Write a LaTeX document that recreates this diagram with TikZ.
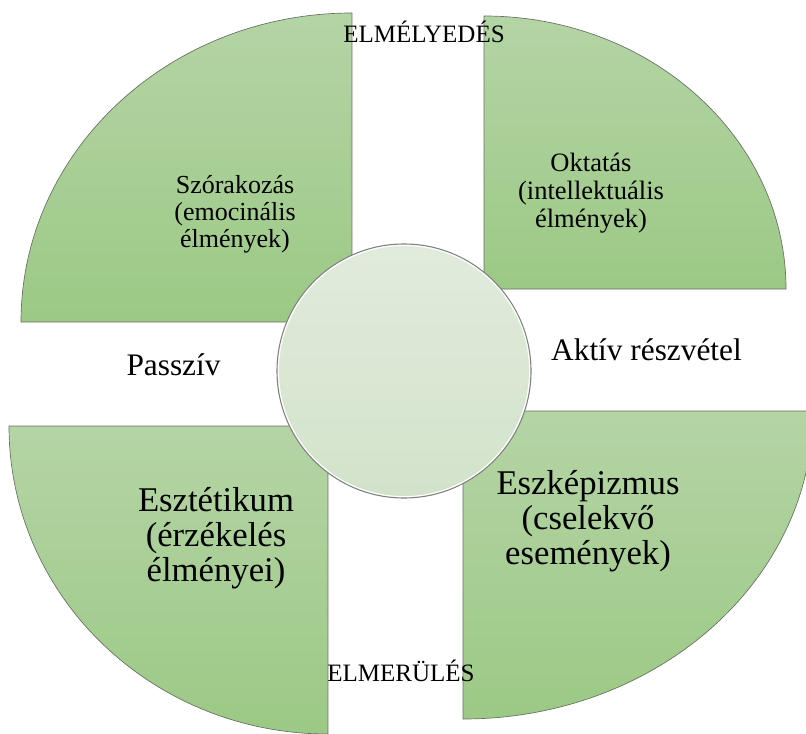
\documentclass[tikz,border=0pt]{standalone}
\usepackage{fontspec}
\setmainfont{LiberationSerif}[Extension=.ttf, UprightFont=*-Regular, BoldFont=*-Bold]
\usetikzlibrary{positioning}
\definecolor{pietop}{RGB}{180,212,165}
\definecolor{piebottom}{RGB}{156,201,133}
\definecolor{pieline}{RGB}{105,110,100}
\definecolor{hubtop}{RGB}{225,235,221}
\definecolor{hubbottom}{RGB}{210,227,202}

\begin{document}
\begin{tikzpicture}[x=0.75pt,y=0.75pt,%
  pie/.style={draw=pieline, line width=0.5pt, top color=pietop, bottom color=piebottom},
  hub/.style={circle, minimum size=190.5pt, inner sep=0pt, draw=gray, line width=0.8pt,
    top color=hubtop, bottom color=hubbottom},
  axis/.style={font=\fontsize{18.75}{20}\selectfont, anchor=base, inner sep=0pt},
  side/.style={font=\fontsize{23.5}{25}\selectfont, anchor=base, inner sep=0pt},
  small/.style={align=center, anchor=base, inner sep=0pt},
  big/.style={font=\fontsize{26}{26.25}\selectfont, align=center, anchor=base, inner sep=0pt},
]
  \useasboundingbox (0,0) rectangle (806,733);

  % four quarters
  \path[pie] (352,411) -- (21,411) arc[start angle=180, end angle=90, x radius=331, y radius=309] -- cycle;
  \path[pie] (484,444) -- (484,717) arc[start angle=90, end angle=0, x radius=302, y radius=273] -- cycle;
  \path[pie] (328,307) -- (9,307) arc[start angle=180, end angle=270, x radius=319, y radius=308] -- cycle;
  \path[pie] (463,322) -- (813,322) arc[start angle=0, end angle=-90, x radius=350, y radius=308] -- cycle;

  % centre
  \node[hub] (core) at (404,362) {};
  \draw[white, line width=0.8pt] (core.center) circle[radius=125.6];

  \node[axis] (deep) at (424,690) {ELMÉLYEDÉS};
  \node[axis] (immerse) at (401,52) {ELMERÜLÉS};
  \node[side] (passive) at (173.5,358) {Passzív};
  \node[side] (active) at (646.5,373) {Aktív részvétel};

  % anchor=base sits on the last line
  \node[small, font=\fontsize{19.5}{20.6}\selectfont] (fun) at (235,485)
    {Szórakozás\\(emocinális\\élmények)};
  \node[small, font=\fontsize{19.9}{21}\selectfont] (edu) at (591,505)
    {Oktatás\\(intellektuális\\élmények)};
  \node[big] (aesth) at (216,152) {Esztétikum\\(érzékelés\\élményei)};
  \node[big] (escape) at (588,169) {Eszképizmus\\(cselekvő\\események)};

\end{tikzpicture}
\end{document}
